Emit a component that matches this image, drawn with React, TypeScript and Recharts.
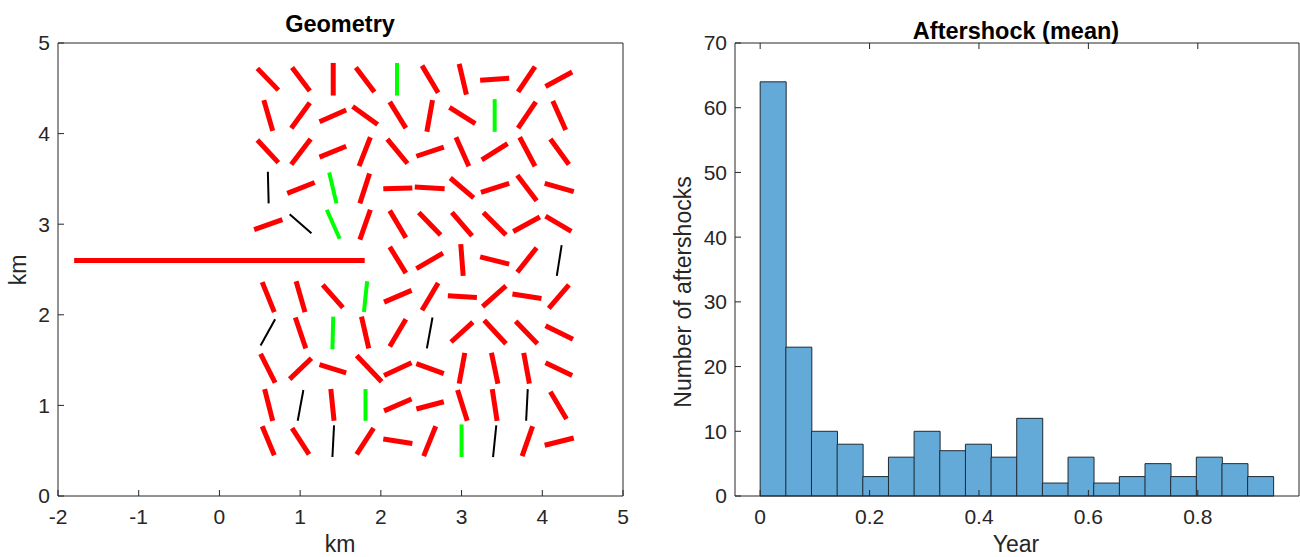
import * as React from "react";
import {
  ScatterChart,
  Scatter,
  ComposedChart,
  Bar,
  XAxis,
  YAxis,
} from "recharts";

// fracture segments, [x1, y1, x2, y2] in km
const mainFault: number[][] = [[-1.8, 2.6, 1.8, 2.6]];

const redSegments: number[][] = [
  [0.47, 4.72, 0.73, 4.48], [0.9, 4.73, 1.12, 4.47], [1.41, 4.78, 1.41, 4.42], [1.69, 4.73, 1.92, 4.46],
  [2.51, 4.75, 2.71, 4.45], [2.97, 4.77, 3.06, 4.43], [3.23, 4.59, 3.59, 4.61], [3.7, 4.46, 3.91, 4.74],
  [4.04, 4.52, 4.37, 4.68],
  [0.55, 4.37, 0.66, 4.03], [0.89, 4.06, 1.12, 4.34], [1.24, 4.13, 1.57, 4.26], [1.65, 4.3, 1.96, 4.1],
  [2.11, 4.35, 2.31, 4.06], [2.64, 4.37, 2.57, 4.02], [2.85, 4.29, 3.17, 4.11], [3.7, 4.06, 3.92, 4.35],
  [4.13, 4.36, 4.29, 4.04],
  [0.47, 3.93, 0.73, 3.68], [0.89, 3.66, 1.13, 3.94], [1.24, 3.74, 1.57, 3.86], [1.87, 3.96, 1.73, 3.64],
  [2.08, 3.94, 2.33, 3.67], [2.44, 3.75, 2.78, 3.85], [2.93, 3.96, 3.09, 3.64], [3.25, 3.71, 3.57, 3.89],
  [3.72, 3.96, 3.91, 3.64], [4.1, 3.94, 4.33, 3.66],
  [0.84, 3.34, 1.18, 3.46], [1.86, 3.56, 1.74, 3.23], [2.03, 3.39, 2.39, 3.4], [2.42, 3.41, 2.79, 3.39],
  [2.86, 3.51, 3.15, 3.29], [3.24, 3.35, 3.59, 3.45], [3.69, 3.54, 3.93, 3.26], [4.03, 3.45, 4.39, 3.36],
  [0.43, 2.94, 0.78, 3.05], [1.87, 3.16, 1.74, 2.83], [2.11, 3.15, 2.31, 2.85], [2.47, 3.13, 2.74, 2.88],
  [2.88, 3.13, 3.13, 2.87], [3.27, 3.13, 3.55, 2.88], [3.64, 2.92, 3.97, 3.08], [4.04, 3.09, 4.36, 2.92],
  [2.11, 2.75, 2.31, 2.46], [2.44, 2.51, 2.77, 2.68], [2.99, 2.78, 3.02, 2.43], [3.23, 2.64, 3.59, 2.56],
  [3.69, 2.47, 3.93, 2.74],
  [0.53, 2.36, 0.68, 2.03], [0.95, 2.37, 1.06, 2.03], [1.28, 2.33, 1.53, 2.08], [2.04, 2.14, 2.38, 2.27],
  [2.71, 2.35, 2.51, 2.05], [2.83, 2.21, 3.19, 2.19], [3.26, 2.09, 3.55, 2.32], [3.63, 2.23, 3.99, 2.18],
  [4.08, 2.07, 4.33, 2.33],
  [0.94, 1.97, 1.07, 1.63], [1.76, 1.98, 1.85, 1.63], [2.31, 1.95, 2.11, 1.65], [2.87, 1.7, 3.14, 1.92],
  [3.28, 1.94, 3.55, 1.68], [3.67, 1.93, 3.94, 1.68], [4.04, 1.88, 4.38, 1.73],
  [0.51, 1.57, 0.69, 1.25], [1.14, 1.52, 0.87, 1.29], [1.24, 1.45, 1.57, 1.36], [1.7, 1.55, 2.01, 1.26],
  [2.04, 1.33, 2.38, 1.47], [2.44, 1.46, 2.78, 1.35], [3.04, 1.58, 2.97, 1.24], [3.37, 1.58, 3.45, 1.24],
  [3.77, 1.58, 3.84, 1.24], [4.04, 1.47, 4.37, 1.33],
  [0.56, 1.18, 0.66, 0.83], [1.38, 1.18, 1.42, 0.83], [2.04, 0.94, 2.38, 1.07], [2.44, 0.96, 2.78, 1.04],
  [2.95, 1.17, 3.07, 0.83], [3.38, 1.18, 3.44, 0.83], [4.1, 1.15, 4.3, 0.85],
  [0.53, 0.77, 0.68, 0.45], [0.9, 0.75, 1.11, 0.46], [1.91, 0.75, 1.7, 0.46], [2.03, 0.63, 2.39, 0.58],
  [2.68, 0.77, 2.53, 0.44], [3.88, 0.77, 3.75, 0.44], [4.03, 0.56, 4.39, 0.64],
];

const greenSegments: number[][] = [
  [2.2, 4.78, 2.2, 4.42], [3.41, 4.38, 3.41, 4.02], [1.36, 3.57, 1.45, 3.23], [1.33, 3.16, 1.49, 2.84],
  [1.83, 2.37, 1.79, 2.03], [1.41, 1.98, 1.4, 1.62], [1.81, 1.18, 1.81, 0.83], [3.0, 0.79, 3.0, 0.43],
];

const blackSegments: number[][] = [
  [0.6, 3.58, 0.61, 3.23], [0.87, 3.11, 1.14, 2.9], [4.24, 2.77, 4.18, 2.43], [0.69, 1.95, 0.51, 1.66],
  [2.64, 1.97, 2.57, 1.63], [1.04, 1.17, 0.97, 0.83], [3.82, 1.18, 3.8, 0.83], [1.42, 0.78, 1.4, 0.43],
  [3.43, 0.78, 3.39, 0.43],
];

const kmTicksX = [-2, -1, 0, 1, 2, 3, 4, 5];
const kmTicksY = [0, 1, 2, 3, 4, 5];

// aftershock histogram
const binCounts = [64, 23, 10, 8, 3, 6, 10, 7, 8, 6, 12, 2, 6, 2, 3, 5, 3, 6, 5, 3];
const binWidth = 0.0469;
const yearTicks = [0, 0.2, 0.4, 0.6, 0.8];
const countTicks = [0, 10, 20, 30, 40, 50, 60, 70];

const histData = binCounts.map((count, i) => ({ mid: (i + 0.5) * binWidth, count }));

const FONT = "'Liberation Sans', Arial, Helvetica, sans-serif";
const AXIS = "#262626";
const tickStyle = { fill: AXIS, fontSize: 21, fontFamily: FONT };
const noLabel = () => "";

const segmentSeries = (segs: number[][], color: string, width: number, key: string) =>
  segs.map((s, i) => (
    <Scatter
      key={`${key}-${i}`}
      data={[
        { x: s[0], y: s[1] },
        { x: s[2], y: s[3] },
      ]}
      line={{ stroke: color, strokeWidth: width }}
      shape={() => <g />}
      isAnimationActive={false}
    />
  ));

const Text: React.FC<{ x: number; y: number; rotate?: boolean; bold?: boolean; size: number; children: React.ReactNode }> = ({
  x,
  y,
  rotate,
  bold,
  size,
  children,
}) => (
  <div
    style={{
      position: "absolute",
      left: x,
      top: y,
      transform: `translate(-50%, -50%)${rotate ? " rotate(-90deg)" : ""}`,
      fontFamily: FONT,
      fontSize: size,
      fontWeight: bold ? "bold" : "normal",
      color: bold ? "#000" : AXIS,
      whiteSpace: "nowrap",
      lineHeight: 1,
    }}
  >
    {children}
  </div>
);

export default function App() {
  return (
    <div style={{ position: "absolute", left: 0, top: 0, width: 1300, height: 557, background: "#fff", overflow: "hidden" }}>
      <div style={{ position: "absolute", left: 0, top: 0 }}>
        <ScatterChart width={650} height={557} margin={{ top: 43, right: 27, bottom: 31, left: 28 }}>
          <XAxis
            dataKey="x"
            type="number"
            domain={[-2, 5]}
            ticks={kmTicksX}
            allowDataOverflow
            height={30}
            stroke={AXIS}
            tick={tickStyle}
            tickSize={-6}
            tickMargin={19}
          />
          <XAxis xAxisId="top" orientation="top" type="number" domain={[-2, 5]} ticks={kmTicksX} height={1} stroke={AXIS} mirror tickFormatter={noLabel} tickSize={6} />
          <YAxis
            dataKey="y"
            type="number"
            domain={[0, 5]}
            ticks={kmTicksY}
            allowDataOverflow
            width={30}
            stroke={AXIS}
            tick={tickStyle}
            tickSize={-6}
            tickMargin={14}
          />
          <YAxis yAxisId="right" orientation="right" type="number" domain={[0, 5]} ticks={kmTicksY} width={1} stroke={AXIS} mirror tickFormatter={noLabel} tickSize={6} />
          {segmentSeries(mainFault, "#ff0000", 5, "main")}
          {segmentSeries(redSegments, "#ff0000", 5, "red")}
          {segmentSeries(greenSegments, "#00ff00", 4, "green")}
          {segmentSeries(blackSegments, "#000000", 2, "black")}
        </ScatterChart>
      </div>
      <div style={{ position: "absolute", left: 650, top: 0 }}>
        <ComposedChart
          width={650}
          height={557}
          data={histData}
          margin={{ top: 43, right: 1, bottom: 31, left: 45 }}
          barCategoryGap={0}
          barGap={0}
        >
          <XAxis
            dataKey="mid"
            type="number"
            domain={[-0.046, 0.985]}
            ticks={yearTicks}
            allowDataOverflow
            height={30}
            stroke={AXIS}
            tick={tickStyle}
            tickSize={-6}
            tickMargin={19}
          />
          <XAxis xAxisId="top" orientation="top" type="number" dataKey="mid" domain={[-0.046, 0.985]} ticks={yearTicks} allowDataOverflow height={1} stroke={AXIS} mirror tickFormatter={noLabel} tickSize={6} />
          <YAxis
            type="number"
            domain={[0, 70]}
            ticks={countTicks}
            width={40}
            stroke={AXIS}
            tick={tickStyle}
            tickSize={-6}
            tickMargin={14}
          />
          <YAxis yAxisId="right" orientation="right" type="number" domain={[0, 70]} ticks={countTicks} width={1} stroke={AXIS} mirror tickFormatter={noLabel} tickSize={6} />
          <Bar dataKey="count" fill="#64aad8" stroke="#1e2a33" strokeWidth={1} isAnimationActive={false} />
        </ComposedChart>
      </div>
      <Text x={340} y={25} bold size={23.5}>Geometry</Text>
      <Text x={1016} y={32} bold size={23.5}>Aftershock (mean)</Text>
      <Text x={18} y={270} rotate size={23}>km</Text>
      <Text x={340} y={544} size={23}>km</Text>
      <Text x={683} y={292} rotate size={23}>Number of aftershocks</Text>
      <Text x={1016} y={544} size={23}>Year</Text>
    </div>
  );
}
